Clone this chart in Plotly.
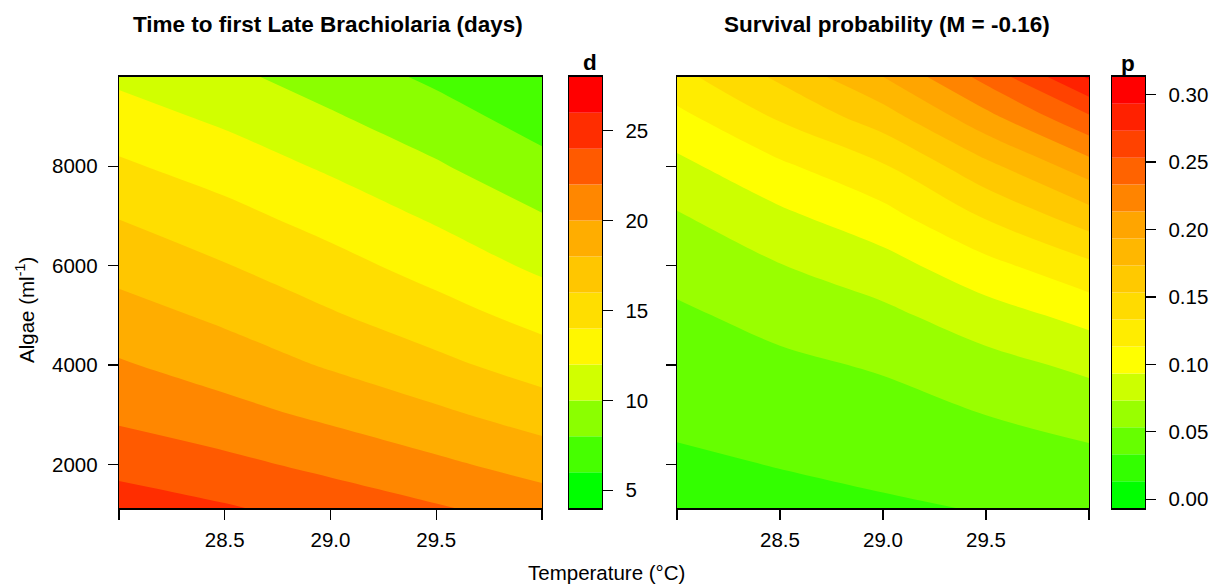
import plotly.graph_objects as go

# ---------------- data ----------------
temperature = [28.0, 28.5, 29.0, 29.5, 30.0]
algae = [1120, 2000, 3000, 4000, 5000, 6000, 7000, 8000, 9000, 9800]

# time to first late brachiolaria (days); rows = algae, cols = temperature
days = [
    [25.0, 24.2, 23.2, 22.2, 21.1],
    [23.4, 22.5, 21.5, 20.4, 19.2],
    [21.6, 20.7, 19.6, 18.4, 17.1],
    [20.2, 19.1, 17.8, 16.5, 15.1],
    [18.8, 17.6, 16.2, 14.8, 13.3],
    [17.3, 16.1, 14.7, 13.2, 11.6],
    [15.9, 14.6, 13.2, 11.7, 10.1],
    [14.3, 13.1, 11.7, 10.2, 8.6],
    [12.8, 11.6, 10.2, 8.8, 7.1],
    [11.6, 10.45, 9.1, 7.6, 6.0],
]

# survival probability; rows = algae, cols = temperature
survival = [
    [0.0250, 0.0280, 0.0310, 0.0342, 0.0380],
    [0.0304, 0.0339, 0.0374, 0.0425, 0.0476],
    [0.0369, 0.0415, 0.0460, 0.0534, 0.0608],
    [0.0435, 0.0494, 0.0553, 0.0665, 0.0777],
    [0.0502, 0.0594, 0.0686, 0.0843, 0.1000],
    [0.0597, 0.0726, 0.0854, 0.1071, 0.1288],
    [0.0716, 0.0891, 0.1065, 0.1355, 0.1644],
    [0.0880, 0.1096, 0.1312, 0.1678, 0.2044],
    [0.1081, 0.1362, 0.1642, 0.2077, 0.2511],
    [0.1272, 0.1570, 0.1933, 0.2400, 0.2960],
]

d_levels = [4, 6, 8, 10, 12, 14, 16, 18, 20, 22, 24, 26, 28]
p_levels = [-0.0067, 0.0133, 0.0333, 0.0533, 0.0733, 0.0933, 0.1133, 0.1333,
            0.1533, 0.1733, 0.1933, 0.2133, 0.2333, 0.2533, 0.2733, 0.2933, 0.3133]

x_labelled = [28.5, 29.0, 29.5]
x_ticktext = ["28.5", "29.0", "29.5"]
x_end_ticks = [28.0, 30.0]
y_tickvals = [2000, 4000, 6000, 8000]
y_ticktext = ["2000", "4000", "6000", "8000"]
d_ticks = [5, 10, 15, 20, 25]
p_ticks = [0.00, 0.05, 0.10, 0.15, 0.20, 0.25, 0.30]

titles = ["Time to first Late Brachiolaria (days)", "Survival probability (M = -0.16)"]
x_title = "Temperature (°C)"
y_title = "Algae (ml<sup>-1</sup>)"

# ---------------- palette (green -> yellow -> orange -> red) ----------------
anchors = [(0, 255, 0), (255, 255, 0), (255, 165, 0), (255, 0, 0)]


def ramp(n):
    out = []
    for i in range(n):
        t = i / (n - 1) * (len(anchors) - 1)
        k = min(int(t), len(anchors) - 2)
        f = t - k
        a, b = anchors[k], anchors[k + 1]
        c = [round(a[j] + (b[j] - a[j]) * f) for j in range(3)]
        out.append("rgb(%d,%d,%d)" % tuple(c))
    return out


d_colors = ramp(len(d_levels) - 1)
p_colors = ramp(len(p_levels) - 1)


def scale_from(colors):
    n = len(colors)
    return [[j / (n - 1), c] for j, c in enumerate(colors)]


W, H = 1212, 585
FONT = "Liberation Sans, Arial, Helvetica, sans-serif"


def px(x):
    return x / W


def py(y):
    return 1 - y / H


top, bottom = 77, 510
ydom = [py(bottom), py(top)]

fig = go.Figure()

step_d = d_levels[1] - d_levels[0]
fig.add_trace(go.Contour(
    x=temperature, y=algae, z=days,
    contours=dict(start=d_levels[1], end=d_levels[-2], size=step_d,
                  coloring="fill", showlines=False),
    colorscale=scale_from(d_colors), showscale=False,
    line=dict(width=0, smoothing=1.0),
    xaxis="x", yaxis="y", hoverinfo="skip",
))

step_p = round(p_levels[1] - p_levels[0], 4)
fig.add_trace(go.Contour(
    x=temperature, y=algae, z=survival,
    contours=dict(start=p_levels[1], end=p_levels[-2], size=step_p,
                  coloring="fill", showlines=False),
    colorscale=scale_from(p_colors), showscale=False,
    line=dict(width=0, smoothing=1.0),
    xaxis="x2", yaxis="y2", hoverinfo="skip",
))

# colour keys as stacked bars
fig.add_trace(go.Bar(
    x=[0] * (len(d_levels) - 1),
    y=[d_levels[i + 1] - d_levels[i] for i in range(len(d_levels) - 1)],
    base=d_levels[:-1], marker=dict(color=d_colors, line=dict(width=0)),
    width=1, xaxis="x3", yaxis="y3", hoverinfo="skip",
))
fig.add_trace(go.Bar(
    x=[0] * (len(p_levels) - 1),
    y=[p_levels[i + 1] - p_levels[i] for i in range(len(p_levels) - 1)],
    base=p_levels[:-1], marker=dict(color=p_colors, line=dict(width=0)),
    width=1, xaxis="x4", yaxis="y4", hoverinfo="skip",
))

TICK_SIZE = 20.5
axis_common = dict(showline=True, mirror=True, linecolor="black", linewidth=1.3,
                   ticks="outside", ticklen=10, tickwidth=1.3, tickcolor="black",
                   showgrid=False, zeroline=False,
                   tickfont=dict(family=FONT, size=TICK_SIZE, color="black"))
x_minor = dict(tickvals=x_end_ticks, ticks="outside", ticklen=10, tickwidth=1.3,
               tickcolor="black", showgrid=False)

fig.update_layout(
    width=W, height=H, margin=dict(l=0, r=0, t=0, b=0),
    paper_bgcolor="white", plot_bgcolor="white", showlegend=False,
    barmode="overlay", font=dict(family=FONT, color="black"),
    xaxis=dict(domain=[px(119), px(542)], range=[28, 30], tickvals=x_labelled,
               ticktext=x_ticktext, anchor="y", minor=x_minor, ticklabelstandoff=3,
               **axis_common),
    yaxis=dict(domain=ydom, range=[algae[0], algae[-1]], tickvals=y_tickvals,
               ticktext=y_ticktext, anchor="x", ticklabelstandoff=6, **axis_common),
    xaxis2=dict(domain=[px(677), px(1089)], range=[28, 30], tickvals=x_labelled,
                ticktext=x_ticktext, anchor="y2", minor=x_minor, ticklabelstandoff=3,
                **axis_common),
    yaxis2=dict(domain=ydom, range=[algae[0], algae[-1]], tickvals=y_tickvals,
                showticklabels=False, anchor="x2", **axis_common),
    xaxis3=dict(domain=[px(569), px(602)], range=[-0.5, 0.5], showticklabels=False,
                showline=True, mirror=True, linecolor="black", linewidth=1.3,
                ticks="", showgrid=False, zeroline=False, anchor="y3", fixedrange=True),
    yaxis3=dict(domain=ydom, range=[d_levels[0], d_levels[-1]], side="right",
                tickvals=d_ticks, ticktext=[str(v) for v in d_ticks], anchor="x3",
                ticklabelstandoff=8, **axis_common),
    xaxis4=dict(domain=[px(1112), px(1145)], range=[-0.5, 0.5], showticklabels=False,
                showline=True, mirror=True, linecolor="black", linewidth=1.3,
                ticks="", showgrid=False, zeroline=False, anchor="y4", fixedrange=True),
    yaxis4=dict(domain=ydom, range=[p_levels[0], p_levels[-1]], side="right",
                tickvals=p_ticks, ticktext=["%.2f" % v for v in p_ticks], anchor="x4",
                ticklabelstandoff=8, **axis_common),
)

ann_font = dict(family=FONT, size=20.5, color="black")
bold_font = dict(family=FONT, size=22.5, color="black")
annotations = [
    dict(text="<b>%s</b>" % titles[0], x=px(328), y=py(25), font=bold_font),
    dict(text="<b>%s</b>" % titles[1], x=px(887), y=py(25), font=bold_font),
    dict(text="<b>d</b>", x=px(590), y=py(63), font=bold_font),
    dict(text="<b>p</b>", x=px(1128), y=py(64), font=bold_font),
    dict(text=x_title, x=px(606), y=py(574), font=ann_font),
    dict(text=y_title, x=px(25), y=py(311), font=ann_font, textangle=-90),
]
for a in annotations:
    a.update(xref="paper", yref="paper", showarrow=False, xanchor="center", yanchor="middle")
fig.update_layout(annotations=annotations)

fig.write_html("out.html", config={"displayModeBar": False, "staticPlot": True},
               post_script="document.body.style.margin='0';document.body.style.overflow='hidden';")
